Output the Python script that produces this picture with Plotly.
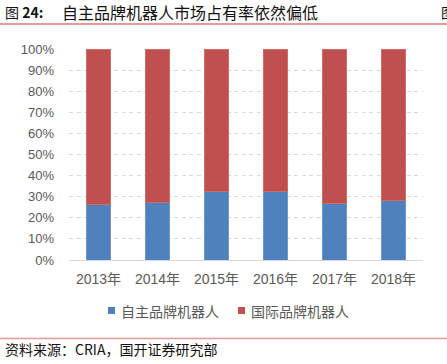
import plotly.graph_objects as go

categories = ["2013年", "2014年", "2015年", "2016年", "2017年", "2018年"]
domestic = [26.2, 27.1, 32.7, 32.7, 26.8, 28.0]
international = [100 - v for v in domestic]
series_names = ["自主品牌机器人", "国际品牌机器人"]
series_colors = ["#4F81BD", "#C0504D"]
y_ticks = [0, 10, 20, 30, 40, 50, 60, 70, 80, 90, 100]
y_labels = [f"{t}%" for t in y_ticks]

W, H = 447, 364
L, R, T, B = 69, 24, 49, 104
PW, PH = W - L - R, H - T - B
CJK = "Noto Sans CJK SC, Liberation Sans, Arial"
LAT = "Liberation Sans, Arial, Noto Sans CJK SC"


def px(x):
    return (x - L) / PW


def py(y):
    return (H - B - y) / PH


fig = go.Figure()
fig.add_trace(go.Bar(x=categories, y=domestic, name=series_names[0], showlegend=False,
                     hoverinfo="skip",
                     marker=dict(color=series_colors[0], line=dict(color="#6E97CC", width=1))))
fig.add_trace(go.Bar(x=categories, y=international, name=series_names[1], showlegend=False,
                     hoverinfo="skip",
                     marker=dict(color=series_colors[1], line=dict(color="#D06C69", width=1))))

fig.update_layout(
    width=W, height=H,
    barmode="stack", bargap=0.593,
    plot_bgcolor="white", paper_bgcolor="white",
    margin=dict(l=L, r=R, t=T, b=B, autoexpand=False),
    font=dict(family=CJK, color="#595959"),
    xaxis=dict(showgrid=False, tickfont=dict(size=14, family=LAT, color="#595959"),
               showline=True, linecolor="#D9D9D9", linewidth=1, ticks="",
               ticklabelstandoff=6),
    yaxis=dict(range=[0, 100], tickvals=y_ticks, ticktext=y_labels,
               tickfont=dict(size=13, family=LAT, color="#595959"),
               showgrid=True, gridcolor="#D9D9D9", griddash="4px,3.5px", gridwidth=1,
               zeroline=False, showline=False, ticks="", ticklabelstandoff=14),
    showlegend=False,
)

# legend (drawn manually for compact square markers)
legend_sq_x = [108, 238]
for name, color, x0 in zip(series_names, series_colors, legend_sq_x):
    fig.add_shape(type="rect", xref="paper", yref="paper",
                  x0=px(x0), x1=px(x0 + 7), y0=py(314), y1=py(307),
                  fillcolor=color, line=dict(width=0))
    fig.add_annotation(xref="paper", yref="paper", x=px(x0 + 11), y=py(310.5),
                       xanchor="left", yanchor="middle", text=name, showarrow=False,
                       font=dict(size=14, family=CJK, color="#595959"))

# title
fig.add_annotation(xref="paper", yref="paper", x=px(3), y=py(12), xanchor="left", yanchor="middle",
                   text="图 <b>24:</b>", showarrow=False,
                   font=dict(size=14, family=CJK, color="#111111"))
fig.add_annotation(xref="paper", yref="paper", x=px(60), y=py(12), xanchor="left", yanchor="middle",
                   text="自主品牌机器人市场占有率依然偏低", showarrow=False,
                   font=dict(size=16, family=CJK, color="#111111"))
fig.add_annotation(xref="paper", yref="paper", x=px(439), y=py(12), xanchor="left", yanchor="middle",
                   text="图", showarrow=False,
                   font=dict(size=14, family=CJK, color="#111111"))
fig.add_shape(type="line", xref="paper", yref="paper", x0=px(0), x1=px(W), y0=py(24), y1=py(24),
              line=dict(color="#E59A9A", width=2))
fig.add_shape(type="line", xref="paper", yref="paper", x0=px(0), x1=px(W), y0=py(338.5), y1=py(338.5),
              line=dict(color="#E59A9A", width=1.5))
fig.add_annotation(xref="paper", yref="paper", x=px(3), y=py(349), xanchor="left", yanchor="middle",
                   text="资料来源：CRIA，国开证券研究部", showarrow=False,
                   font=dict(size=14, family=CJK, color="#111111"))

fig.write_html("out.html", config={"displayModeBar": False},
               post_script="document.body.style.margin='0';")
